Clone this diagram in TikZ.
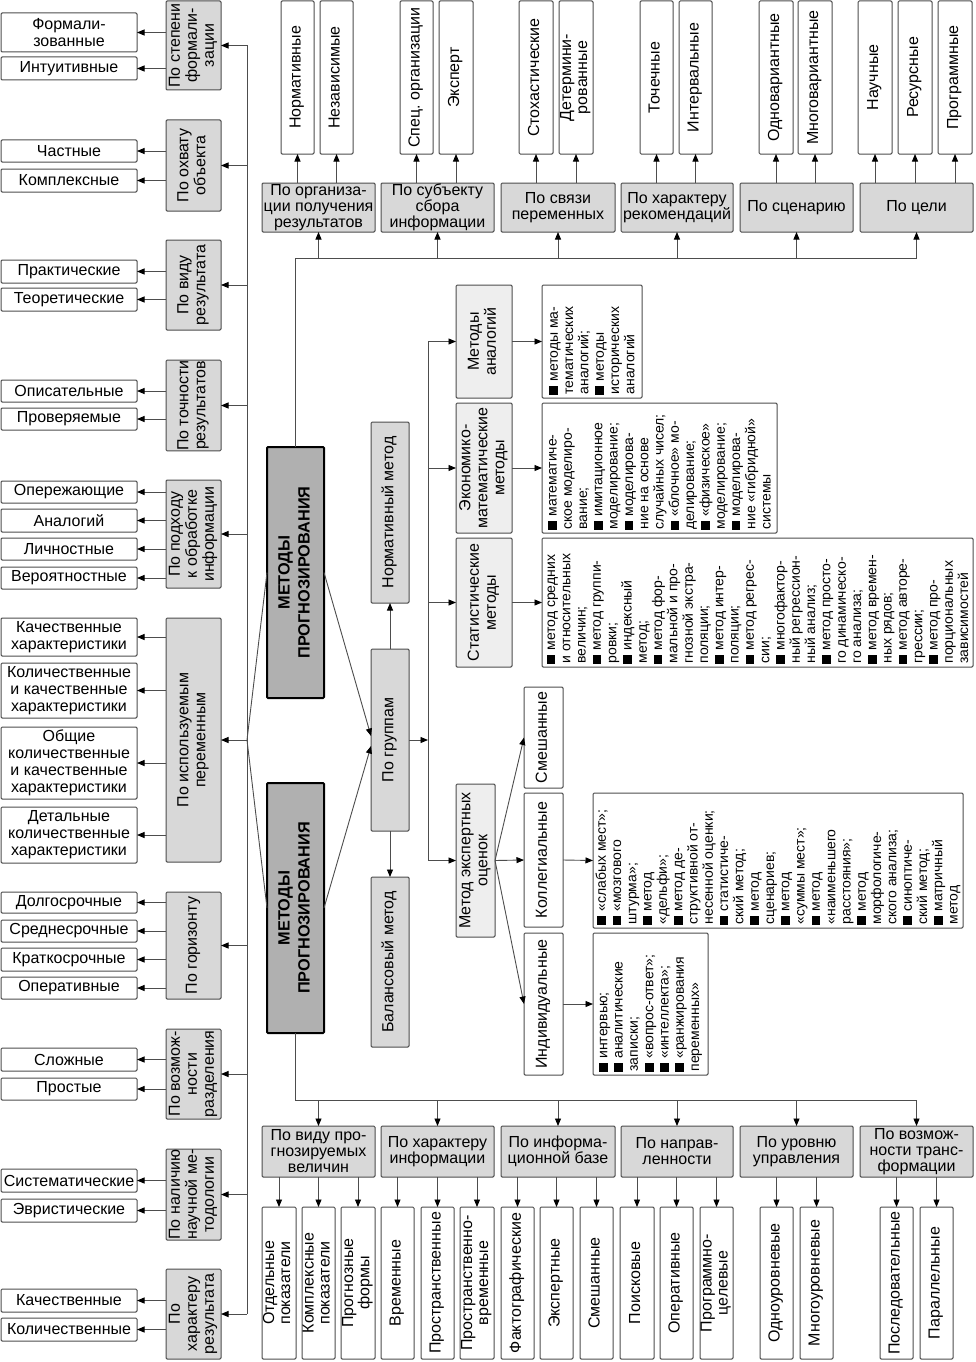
\documentclass[tikz,border=0pt]{standalone}
\usepackage{fontspec}
\setmainfont{Liberation Sans}
\usepackage{graphicx}
\usetikzlibrary{arrows.meta,calc}
\definecolor{catgray}{HTML}{D8D8D8}
\definecolor{methgray}{HTML}{EEEEEE}
\definecolor{maingray}{HTML}{B0B0B0}
\definecolor{lngray}{HTML}{4D4D4D}
\newcommand\fntA{\fontsize{16}{17}\selectfont}
\newcommand\fntB{\fontsize{16}{16}\selectfont}
\newcommand\fntL{\fontsize{14}{15.3}\selectfont}
\newcommand\fntM{\fontsize{16.3}{20}\selectfont\bfseries}
\newcommand\bx[7]{\node[#2, minimum width={(#5)-(#3)}, minimum height={(#6)-(#4)}] (#1) at ({((#3)+(#5))/2},{((#4)+(#6))/2}) {#7};}
\newcommand\vtext[1]{\rotatebox{90}{\begin{tabular}{@{}c@{}}#1\end{tabular}}}
\newcommand\vlist[2]{\rotatebox{90}{\parbox{#1pt}{\raggedright #2}}}
\newcommand\sqbul{\rule[-0.02em]{0.62em}{0.62em}\hspace{0.3em}}
\begin{document}
\begin{tikzpicture}[x=1pt,y=-1pt,
  box/.style={draw=lngray, line width=1pt, rounded corners=1.2pt, inner sep=0pt, outer sep=0pt, align=center, font=\fntA},
  wbox/.style={box, fill=white},
  cbox/.style={box, fill=catgray},
  mbox/.style={box, fill=methgray},
  lbox/.style={box, fill=white, font=\fntL},
  mainb/.style={draw=black, line width=2pt, fill=maingray, rounded corners=1pt, inner sep=0pt, outer sep=0pt, font=\fntM},
  ln/.style={draw=lngray, line width=0.9pt},
  arr/.style={ln, -{Triangle[length=7.5pt,width=6pt,color=black]}}]
\fill[white] (0,0) rectangle (975,1362);
\useasboundingbox (0,0) rectangle (975,1362);

% ---------- left column ----------
\bx{L1a}{wbox}{1}{13}{137}{52}{Формали-\\зованные}
\bx{L1b}{wbox}{1}{57}{137}{80}{Интуитивные}
\bx{G1}{cbox}{166}{1}{221}{90}{\vtext{По степени\\формали-\\зации}}
\bx{L2a}{wbox}{1}{140}{137}{162}{Частные}
\bx{L2b}{wbox}{1}{169}{137}{192}{Комплексные}
\bx{G2}{cbox}{166}{120}{221}{211}{\vtext{По охвату\\объекта}}
\bx{L3a}{wbox}{1}{260}{137}{283}{Практические}
\bx{L3b}{wbox}{1}{288}{137}{311}{Теоретические}
\bx{G3}{cbox}{166}{240}{221}{330}{\vtext{По виду\\результата}}
\bx{L4a}{wbox}{1}{380}{137}{402}{Описательные}
\bx{L4b}{wbox}{1}{408}{137}{430}{Проверяемые}
\bx{G4}{cbox}{166}{361}{221}{450}{\vtext{По точности\\результатов}}
\bx{L5a}{wbox}{1}{481}{137}{503}{Опережающие}
\bx{L5b}{wbox}{1}{509}{137}{532}{Аналогий}
\bx{L5c}{wbox}{1}{538}{137}{560}{Личностные}
\bx{L5d}{wbox}{1}{567}{137}{589}{Вероятностные}
\bx{G5}{cbox}{166}{480}{221}{588}{\vtext{По подходу\\к обработке\\информации}}
\bx{L6a}{wbox}{1}{618}{137}{656}{Качественные\\характеристики}
\bx{L6b}{wbox}{1}{663}{137}{718}{Количественные\\и качественные\\характеристики}
\bx{L6c}{wbox}{1}{727}{137}{799}{Общие\\количественные\\и качественные\\характеристики}
\bx{L6d}{wbox}{1}{807}{137}{863}{Детальные\\количественные\\характеристики}
\bx{G6}{cbox}{166}{618}{221}{862}{\vtext{По используемым\\переменным}}
\bx{L7a}{wbox}{1}{892}{137}{913}{Долгосрочные}
\bx{L7b}{wbox}{1}{920}{137}{942}{Среднесрочные}
\bx{L7c}{wbox}{1}{948}{137}{971}{Краткосрочные}
\bx{L7d}{wbox}{1}{977}{137}{999}{Оперативные}
\bx{G7}{cbox}{166}{892}{221}{999}{\vtext{По горизонту}}
\bx{L8a}{wbox}{1}{1048}{137}{1071}{Сложные}
\bx{L8b}{wbox}{1}{1078}{137}{1100}{Простые}
\bx{G8}{cbox}{166}{1029}{221}{1119}{\vtext{По возмож-\\ности\\разделения}}
\bx{L9a}{wbox}{1}{1169}{137}{1192}{Систематические}
\bx{L9b}{wbox}{1}{1199}{137}{1222}{Эвристические}
\bx{G9}{cbox}{166}{1149}{221}{1240}{\vtext{По наличию\\научной ме-\\тодологии}}
\bx{L10a}{wbox}{1}{1289}{137}{1312}{Качественные}
\bx{L10b}{wbox}{1}{1318}{137}{1341}{Количественные}
\bx{G10}{cbox}{166}{1269}{221}{1359}{\vtext{По\\характеру\\результата}}

% ---------- main boxes ----------
\bx{M1}{mainb}{267}{447}{324}{698}{\vtext{МЕТОДЫ\\ПРОГНОЗИРОВАНИЯ}}
\bx{M2}{mainb}{267}{783}{324}{1033}{\vtext{МЕТОДЫ\\ПРОГНОЗИРОВАНИЯ}}

% ---------- top categories ----------
\bx{TG1}{cbox,font=\fntB}{262}{183}{375}{232}{По организа-\\ции получения\\результатов}
\bx{TG2}{cbox,font=\fntB}{381}{183}{494}{232}{По субъекту\\сбора\\информации}
\bx{TG3}{cbox,font=\fntB}{501}{183}{615}{232}{По связи\\переменных}
\bx{TG4}{cbox,font=\fntB}{621}{183}{733}{232}{По характеру\\рекомендаций}
\bx{TG5}{cbox,font=\fntB}{740}{183}{853}{232}{По сценарию}
\bx{TG6}{cbox,font=\fntB}{860}{183}{973}{232}{По цели}

\bx{TW1a}{wbox,font=\fntB}{281}{1}{314}{154}{\vtext{Нормативные}}
\bx{TW1b}{wbox,font=\fntB}{320}{1}{353}{154}{\vtext{Независимые}}
\bx{TW2a}{wbox,font=\fntB}{400}{1}{433}{154}{\vtext{Спец.\ организации}}
\bx{TW2b}{wbox,font=\fntB}{439}{1}{473}{154}{\vtext{Эксперт}}
\bx{TW3a}{wbox,font=\fntB}{519}{1}{553}{154}{\vtext{Стохастические}}
\bx{TW3b}{wbox,font=\fntB}{559}{1}{593}{154}{\vtext{Детермини-\\рованные}}
\bx{TW4a}{wbox,font=\fntB}{640}{1}{673}{154}{\vtext{Точечные}}
\bx{TW4b}{wbox,font=\fntB}{679}{1}{712}{154}{\vtext{Интервальные}}
\bx{TW5a}{wbox,font=\fntB}{759}{1}{793}{154}{\vtext{Одновариантные}}
\bx{TW5b}{wbox,font=\fntB}{798}{1}{832}{154}{\vtext{Многовариантные}}
\bx{TW6a}{wbox,font=\fntB}{858}{1}{892}{154}{\vtext{Научные}}
\bx{TW6b}{wbox,font=\fntB}{898}{1}{932}{154}{\vtext{Ресурсные}}
\bx{TW6c}{wbox,font=\fntB}{938}{1}{972}{154}{\vtext{Программные}}

% ---------- bottom categories ----------
\bx{BG1}{cbox,font=\fntB}{262}{1126}{375}{1177}{По виду про-\\гнозируемых\\величин}
\bx{BG2}{cbox,font=\fntB}{381}{1126}{494}{1177}{По характеру\\информации}
\bx{BG3}{cbox,font=\fntB}{501}{1126}{615}{1177}{По информа-\\ционной базе}
\bx{BG4}{cbox,font=\fntB}{621}{1126}{733}{1177}{По направ-\\ленности}
\bx{BG5}{cbox,font=\fntB}{740}{1126}{853}{1177}{По уровню\\управления}
\bx{BG6}{cbox,font=\fntB}{860}{1126}{973}{1177}{По возмож-\\ности транс-\\формации}

\bx{BW1a}{wbox,font=\fntB}{262}{1207}{296}{1359}{\vtext{Отдельные\\показатели}}
\bx{BW1b}{wbox,font=\fntB}{302}{1207}{335}{1359}{\vtext{Комплексные\\показатели}}
\bx{BW1c}{wbox,font=\fntB}{341}{1207}{375}{1359}{\vtext{Прогнозные\\формы}}
\bx{BW2a}{wbox,font=\fntB}{381}{1207}{414}{1359}{\vtext{Временные}}
\bx{BW2b}{wbox,font=\fntB}{421}{1207}{454}{1359}{\vtext{Пространственные}}
\bx{BW2c}{wbox,font=\fntB}{460}{1207}{494}{1359}{\vtext{Пространственно-\\временные}}
\bx{BW3a}{wbox,font=\fntB}{501}{1207}{534}{1359}{\vtext{Фактографические}}
\bx{BW3b}{wbox,font=\fntB}{540}{1207}{573}{1359}{\vtext{Экспертные}}
\bx{BW3c}{wbox,font=\fntB}{580}{1207}{613}{1359}{\vtext{Смешанные}}
\bx{BW4a}{wbox,font=\fntB}{620}{1207}{654}{1359}{\vtext{Поисковые}}
\bx{BW4b}{wbox,font=\fntB}{660}{1207}{693}{1359}{\vtext{Оперативные}}
\bx{BW4c}{wbox,font=\fntB}{700}{1207}{733}{1359}{\vtext{Программно-\\целевые}}
\bx{BW5a}{wbox,font=\fntB}{760}{1207}{793}{1359}{\vtext{Одноуровневые}}
\bx{BW5b}{wbox,font=\fntB}{800}{1207}{833}{1359}{\vtext{Многоуровневые}}
\bx{BW6a}{wbox,font=\fntB}{880}{1207}{913}{1359}{\vtext{Последовательные}}
\bx{BW6b}{wbox,font=\fntB}{920}{1207}{953}{1359}{\vtext{Параллельные}}

% ---------- middle ----------
\bx{NORM}{cbox}{371}{422}{409}{603}{\vtext{Нормативный метод}}
\bx{GRP}{cbox}{371}{649}{409}{831}{\vtext{По группам}}
\bx{BAL}{cbox}{371}{877}{409}{1047}{\vtext{Балансовый метод}}
\bx{AN}{mbox}{456}{285}{512}{398}{\vtext{Методы\\аналогий}}
\bx{EM}{mbox}{456}{403}{512}{533}{\vtext{Экономико-\\математические\\методы}}
\bx{ST}{mbox}{456}{538}{512}{667}{\vtext{Статистические\\методы}}
\bx{EX}{mbox}{456}{784}{495}{937}{\vtext{Метод экспертных\\оценок}}
\bx{SM}{wbox}{524}{687}{563}{788}{\vtext{Смешанные}}
\bx{KO}{wbox}{524}{793}{563}{927}{\vtext{Коллегиальные}}
\bx{IN}{wbox}{524}{933}{563}{1075}{\vtext{Индивидуальные}}

\bx{ANL}{lbox}{542}{285}{642}{398}{\vlist{106}{\sqbul методы ма-\\тематических\\аналогий;\\\sqbul методы\\исторических\\аналогий}}
\bx{EML}{lbox}{542}{403}{777}{533}{\vlist{123}{\sqbul математиче-\\ское моделиро-\\вание;\\\sqbul имитационное\\моделирование;\\\sqbul моделирова-\\ние на основе\\случайных чисел;\\\sqbul «блочное» мо-\\делирование;\\\sqbul «физическое»\\моделирование;\\\sqbul моделирова-\\ние «гибридной»\\системы}}
\bx{STL}{lbox}{542}{538}{973}{667}{\vlist{122}{\sqbul метод средних\\и относительных\\величин;\\\sqbul метод группи-\\ровки;\\\sqbul индексный\\метод;\\\sqbul метод фор-\\мальной и про-\\гнозной экстра-\\поляции;\\\sqbul метод интер-\\поляции;\\\sqbul метод регрес-\\сии;\\\sqbul многофактор-\\ный регрессион-\\ный анализ;\\\sqbul метод просто-\\го динамическо-\\го анализа;\\\sqbul метод времен-\\ных рядов;\\\sqbul метод авторе-\\грессии;\\\sqbul метод про-\\порциональных\\зависимостей}}
\bx{KOL}{lbox}{593}{793}{963}{928}{\vlist{128}{\sqbul «слабых мест»;\\\sqbul «мозгового\\штурма»;\\\sqbul метод\\«дельфи»;\\\sqbul метод де-\\структивной от-\\несенной оценки;\\\sqbul статистиче-\\ский метод;\\\sqbul метод\\сценариев;\\\sqbul метод\\«суммы мест»;\\\sqbul метод\\«наименьшего\\расстояния»;\\\sqbul метод\\морфологиче-\\ского анализа;\\\sqbul синоптиче-\\ский метод;\\\sqbul матричный\\метод}}
\bx{INL}{lbox}{593}{933}{708}{1075}{\vlist{135}{\sqbul интервью;\\\sqbul аналитические\\записки;\\\sqbul «вопрос-ответ»;\\\sqbul «интеллекта»;\\\sqbul «ранжирования\\переменных»}}

% ---------- left trunk connectors ----------
\foreach \i in {1,...,10}{\path (G\i.east) ++(26,0) coordinate (t\i);}
\draw[ln] (t1) -- (t10);
\foreach \i in {1,...,10}{\draw[arr] (t\i) -- (G\i.east);}
\foreach \g/\l in {1/L1a,1/L1b,2/L2a,2/L2b,3/L3a,3/L3b,4/L4a,4/L4b,5/L5a,5/L5b,5/L5c,5/L5d,6/L6a,6/L6b,6/L6c,6/L6d,7/L7a,7/L7b,7/L7c,7/L7d,8/L8a,8/L8b,9/L9a,9/L9b,10/L10a,10/L10b}
  {\draw[arr] (G\g.west |- \l.east) -- (\l.east);}
\draw[ln] (M1.west) -- (t6);
\draw[ln] (M2.west) -- (t6);

% ---------- top connectors ----------
\foreach \i in {1,...,6}{\path (TG\i.south) ++(0,26) coordinate (tc\i);}
\draw[ln] (M1.north) |- (tc6);
\foreach \i in {1,...,6}{\draw[arr] (tc\i) -- (TG\i.south);}
\foreach \g/\w in {1/TW1a,1/TW1b,2/TW2a,2/TW2b,3/TW3a,3/TW3b,4/TW4a,4/TW4b,5/TW5a,5/TW5b,6/TW6a,6/TW6b,6/TW6c}
  {\draw[arr] (TG\g.north -| \w) -- (\w.south);}

% ---------- bottom connectors ----------
\foreach \i in {1,...,6}{\path (BG\i.north) ++(0,-26) coordinate (bc\i);}
\draw[ln] (M2.south) |- (bc6);
\foreach \i in {1,...,6}{\draw[arr] (bc\i) -- (BG\i.north);}
\foreach \g/\w in {1/BW1a,1/BW1b,1/BW1c,2/BW2a,2/BW2b,2/BW2c,3/BW3a,3/BW3b,3/BW3c,4/BW4a,4/BW4b,4/BW4c,5/BW5a,5/BW5b,6/BW6a,6/BW6b}
  {\draw[arr] (BG\g.south -| \w) -- (\w.north);}

% ---------- middle connectors ----------
\draw[arr] (M1.east) -- ([yshift=4pt]GRP.west);
\draw[arr] (M2.east) -- ([yshift=-6pt]GRP.west);
\draw[arr] (GRP.north) -- (NORM.south);
\draw[arr] (GRP.south) -- (BAL.north);
\path (AN.west) ++(-28,0) coordinate (va);
\path (EM.west) ++(-28,0) coordinate (ve);
\path (ST.west) ++(-28,0) coordinate (vs);
\path (EX.west) ++(-28,0) coordinate (vx);
\draw[ln] (va) -- (vx);
\draw[arr] (GRP.east) -- (GRP.east -| va);
\draw[arr] (va) -- (AN.west);
\draw[arr] (ve) -- (EM.west);
\draw[arr] (vs) -- (ST.west);
\draw[arr] (vx) -- (EX.west);
\draw[arr] (AN.east) -- (ANL.west);
\draw[arr] (EM.east) -- (EML.west);
\draw[arr] (ST.east) -- (STL.west);
\draw[arr] (EX.east) -- (SM.west);
\draw[arr] (EX.east) -- (KO.west);
\draw[arr] (EX.east) -- (IN.west);
\draw[arr] (KO.east) -- (KOL.west);
\draw[arr] (IN.east) -- (INL.west);
\end{tikzpicture}
\end{document}
